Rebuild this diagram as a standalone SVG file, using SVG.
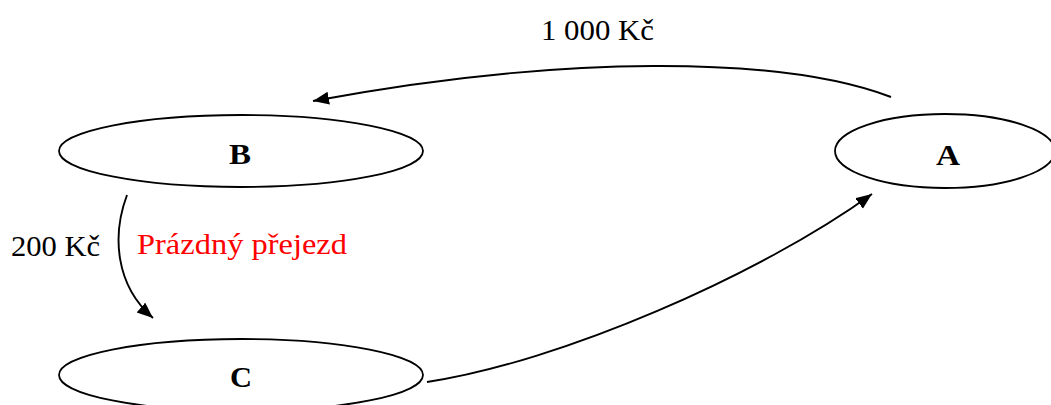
<svg xmlns="http://www.w3.org/2000/svg" width="1051" height="405" viewBox="0 0 1051 405">
<style>
.node{fill:#fff;stroke:#000;stroke-width:1.8}
.lbl{font-family:"Liberation Serif","Times New Roman",serif;font-weight:bold;font-size:29px;fill:#000}
.txt{font-family:"Liberation Serif","Times New Roman",serif;font-size:28.5px;fill:#000}
.red{fill:#ff0000}
.edge{fill:none;stroke:#000;stroke-width:1.9;marker-end:url(#arr)}
</style>
<defs>
<marker id="arr" markerUnits="userSpaceOnUse" markerWidth="18" markerHeight="14" refX="16" refY="6.5" orient="auto">
<path d="M0,0 L16,6.5 L0,13 z" fill="#000"/>
</marker>
</defs>
<rect width="1051" height="405" fill="#fff"/>
<g id="node-B">
<ellipse class="node" cx="241" cy="151" rx="182" ry="36"/>
<text class="lbl" x="240" y="164" text-anchor="middle" textLength="22" lengthAdjust="spacingAndGlyphs">B</text>
</g>
<g id="node-A">
<ellipse class="node" cx="945" cy="151" rx="110" ry="37"/>
<text class="lbl" x="948" y="165" text-anchor="middle" textLength="24" lengthAdjust="spacingAndGlyphs">A</text>
</g>
<g id="node-C">
<ellipse class="node" cx="241" cy="375" rx="182" ry="36"/>
<text class="lbl" x="241" y="387" text-anchor="middle" textLength="22" lengthAdjust="spacingAndGlyphs">C</text>
</g>
<g id="connectors">
<path class="edge" d="M891,97 C780,55 560,55 313,101"/>
<path class="edge" d="M127,195 C112,235 115,285 153,318"/>
<path class="edge" d="M427,382 C560,362 760,275 872,194"/>
</g>
<g id="labels">
<text class="txt" x="541" y="40" textLength="113" lengthAdjust="spacingAndGlyphs">1 000 Kč</text>
<text class="txt" x="11" y="256" textLength="89" lengthAdjust="spacingAndGlyphs">200 Kč</text>
<text class="txt red" x="137" y="254" textLength="210" lengthAdjust="spacingAndGlyphs">Prázdný přejezd</text>
</g>
</svg>
